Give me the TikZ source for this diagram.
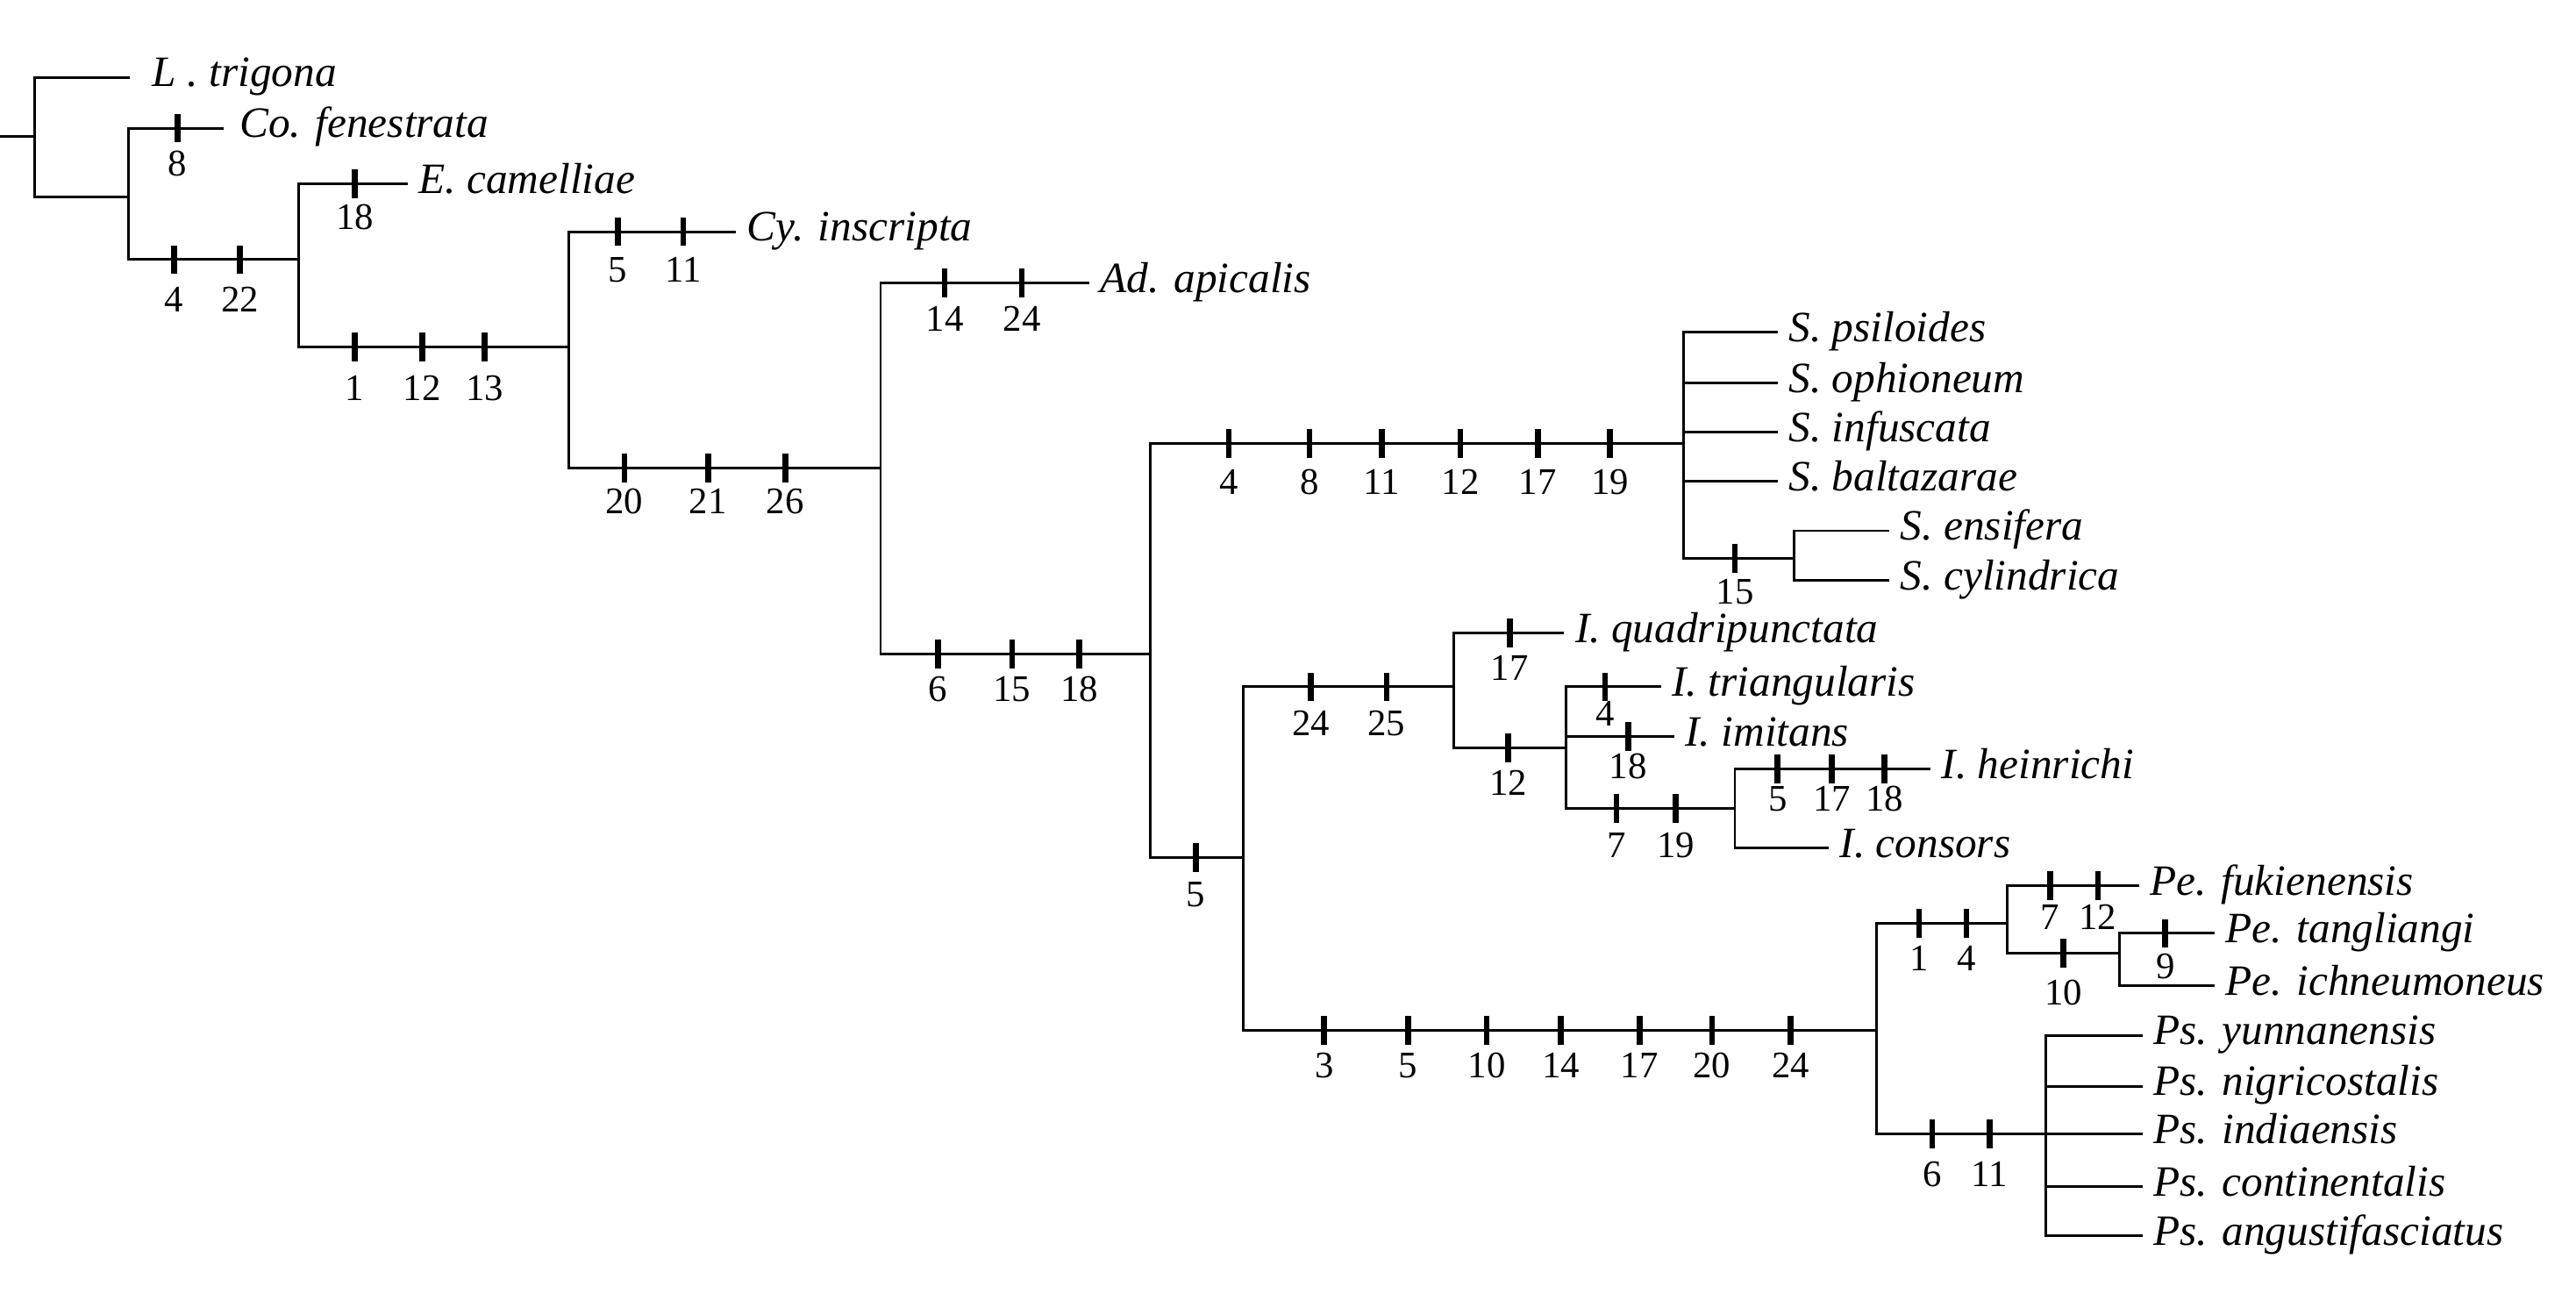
\documentclass[tikz,border=0pt]{standalone}
\usepackage{fontspec}
\setmainfont{Liberation Serif}
\newcommand\tickrow[3]{\foreach \tx/\tn in {#3}{%
  \node[tk] (k\tn x\tx) at (\tx,#1) {};
  \node[num] (m\tn x\tx) at (\tx,{#1+#2}) {\tn};}}
\begin{document}
\begin{tikzpicture}[x=0.02cm,y=-0.02cm,
  br/.style={line width=0.9pt},
  leaf/.style={anchor=west,inner xsep=0.13cm,inner ysep=0pt,text height=0.66em,text depth=0pt,font=\fontsize{15}{15}\selectfont\itshape},
  num/.style={inner sep=0pt,text height=0.66em,text depth=0pt,font=\fontsize{13}{13}\selectfont},
  tk/.style={fill=black,inner sep=0pt,minimum width=0.07cm,minimum height=0.35cm}]
\useasboundingbox (0,0) rectangle (1568,787);
% internal nodes
\coordinate (r0) at (0,83);
\coordinate (n0) at (21,83);
\coordinate (n1) at (78,120);
\coordinate (n2) at (182,158);
\coordinate (n3) at (346,211);
\coordinate (n4) at (536,285);
\coordinate (n5) at (700,398);
\coordinate (nS) at (1025,270);
\coordinate (nSe) at (1092,340);
\coordinate (nB) at (757,522);
\coordinate (nI) at (885,418);
\coordinate (nI2) at (953,455);
\coordinate (nI3) at (1056,492);
\coordinate (nP) at (1142,627);
\coordinate (nPe) at (1222,562);
\coordinate (nPe2) at (1290,580);
\coordinate (nPs) at (1245,690);
% leaves
\node[leaf,inner xsep=0.27cm] (lt) at (79,47) {L . trigona};
\node[leaf,inner xsep=0.19cm] (cf) at (136,78) {Co. fenestrata};
\node[leaf] (ec) at (248,112) {E. camelliae};
\node[leaf] (ci) at (448,141) {Cy. inscripta};
\node[leaf] (aa) at (663,172) {Ad. apicalis};
\node[leaf] (sp) at (1082,202) {S. psiloides};
\node[leaf] (so) at (1082,233) {S. ophioneum};
\node[leaf] (si) at (1082,263) {S. infuscata};
\node[leaf] (sb) at (1082,293) {S. baltazarae};
\node[leaf] (se) at (1150,323) {S. ensifera};
\node[leaf] (sc) at (1150,353) {S. cylindrica};
\node[leaf] (iq) at (952,385) {I. quadripunctata};
\node[leaf] (it) at (1011,418) {I. triangularis};
\node[leaf] (ii) at (1019,448) {I. imitans};
\node[leaf] (ih) at (1175,468) {I. heinrichi};
\node[leaf] (ic) at (1113,516) {I. consors};
\node[leaf] (pf) at (1302,539) {Pe. fukienensis};
\node[leaf] (pt) at (1348,568) {Pe. tangliangi};
\node[leaf] (pi) at (1348,600) {Pe. ichneumoneus};
\node[leaf] (py) at (1304,630) {Ps. yunnanensis};
\node[leaf] (pn) at (1304,661) {Ps. nigricostalis};
\node[leaf] (pd) at (1304,690) {Ps. indiaensis};
\node[leaf] (pc) at (1304,722) {Ps. continentalis};
\node[leaf] (pa) at (1304,752) {Ps. angustifasciatus};
% branches
\draw[br] (r0) -- (n0);
\draw[br] (n0) |- (lt.west);
\draw[br] (n0) |- (n1);
\draw[br] (n1) |- (cf.west);
\draw[br] (n1) |- (n2);
\draw[br] (n2) |- (ec.west);
\draw[br] (n2) |- (n3);
\draw[br] (n3) |- (ci.west);
\draw[br] (n3) |- (n4);
\draw[br] (n4) |- (aa.west);
\draw[br] (n4) |- (n5);
\draw[br] (n5) |- (nS);
\draw[br] (n5) |- (nB);
\foreach \c in {sp,so,si,sb} \draw[br] (nS) |- (\c.west);
\draw[br] (nS) |- (nSe);
\draw[br] (nSe) |- (se.west);
\draw[br] (nSe) |- (sc.west);
\draw[br] (nB) |- (nI);
\draw[br] (nB) |- (nP);
\draw[br] (nI) |- (iq.west);
\draw[br] (nI) |- (nI2);
\draw[br] (nI2) |- (it.west);
\draw[br] (nI2) |- (ii.west);
\draw[br] (nI2) |- (nI3);
\draw[br] (nI3) |- (ih.west);
\draw[br] (nI3) |- (ic.west);
\draw[br] (nP) |- (nPe);
\draw[br] (nP) |- (nPs);
\draw[br] (nPe) |- (pf.west);
\draw[br] (nPe) |- (nPe2);
\draw[br] (nPe2) |- (pt.west);
\draw[br] (nPe2) |- (pi.west);
\foreach \c in {py,pn,pd,pc,pa} \draw[br] (nPs) |- (\c.west);
% character ticks
\tickrow{78}{23}{108/8}
\tickrow{158}{26}{106/4,146/22}
\tickrow{112}{22}{216/18}
\tickrow{211}{27}{216/1,257/12,295/13}
\tickrow{141}{25}{376/5,416/11}
\tickrow{285}{22}{380/20,431/21,478/26}
\tickrow{172}{24}{575/14,622/24}
\tickrow{398}{23}{571/6,616/15,657/18}
\tickrow{270}{25}{748/4,797/8,841/11,889/12,936/17,980/19}
\tickrow{340}{22}{1056/15}
\tickrow{522}{24}{728/5}
\tickrow{418}{24}{798/24,844/25}
\tickrow{385}{23}{919/17}
\tickrow{455}{23}{918/12}
\tickrow{418}{18}{977/4}
\tickrow{448}{20}{991/18}
\tickrow{492}{24}{984/7,1020/19}
\tickrow{468}{20}{1082/5,1115/17,1147/18}
\tickrow{627}{23}{806/3,857/5,905/10,950/14,998/17,1042/20,1090/24}
\tickrow{562}{23}{1168/1,1197/4}
\tickrow{539}{21}{1248/7,1277/12}
\tickrow{580}{26}{1256/10}
\tickrow{568}{22}{1318/9}
\tickrow{690}{26}{1176/6,1211/11}
\end{tikzpicture}
\end{document}
